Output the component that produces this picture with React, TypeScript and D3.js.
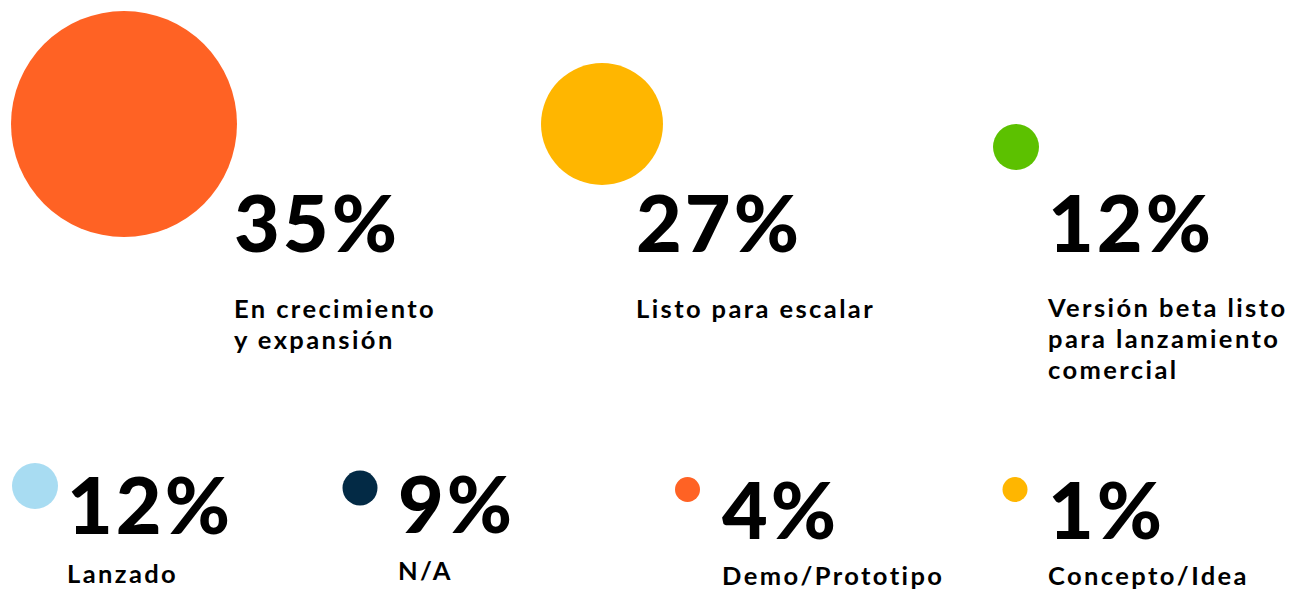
import React from 'react';
import * as d3 from 'd3';

// data
const values = [35, 27, 12, 12, 9, 4, 1];
const labels = [
  ['En crecimiento', 'y expansión'],
  ['Listo para escalar'],
  ['Versión beta listo', 'para lanzamiento', 'comercial'],
  ['Lanzado'],
  ['N/A'],
  ['Demo/Prototipo'],
  ['Concepto/Idea'],
];
const colors = ['#FF6224', '#FFB600', '#5CC100', '#A8DCF2', '#032A45', '#FF6224', '#FFB600'];

const WIDTH = 1297;
const HEIGHT = 590;

// placement of each item (circle centre, text column, baselines)
const layout = [
  { cx: 124, cy: 124, tx: 234, vy: 252, ly: 318 },
  { cx: 602, cy: 124, tx: 636, vy: 252, ly: 318 },
  { cx: 1016, cy: 147, tx: 1048, vy: 252, ly: 317 },
  { cx: 35, cy: 486, tx: 67, vy: 534, ly: 583 },
  { cx: 360, cy: 488, tx: 398, vy: 533, ly: 580 },
  { cx: 687.5, cy: 489.5, tx: 722, vy: 539, ly: 585 },
  { cx: 1015, cy: 489.5, tx: 1048, vy: 539, ly: 585 },
];

const LINE_HEIGHT = 31;

const radius = d3.scaleLinear()
  .domain([4, 9, 12, 27, 35])
  .range([12.5, 17.5, 23, 61, 113])
  .clamp(true);

const App = () => {
  return (
    <svg
      width={WIDTH}
      height={HEIGHT}
      style={{ position: 'absolute', top: 0, left: 0, background: '#fff' }}
    >
      {values.map((v, i) => {
        const p = layout[i];
        return (
          <g key={i}>
            <circle cx={p.cx} cy={p.cy} r={radius(v)} fill={colors[i]} />
            <text
              x={p.tx}
              y={p.vy}
              fontFamily="Lato, sans-serif"
              fontWeight={900}
              fontSize={79}
              letterSpacing={3}
              fill="#000"
            >
              {`${v}%`}
            </text>
            {labels[i].map((line, j) => (
              <text
                key={j}
                x={p.tx}
                y={p.ly + j * LINE_HEIGHT}
                fontFamily="Lato, sans-serif"
                fontWeight={700}
                fontSize={25.5}
                letterSpacing={2.4}
                fill="#000"
              >
                {line}
              </text>
            ))}
          </g>
        );
      })}
    </svg>
  );
};

export default App;
